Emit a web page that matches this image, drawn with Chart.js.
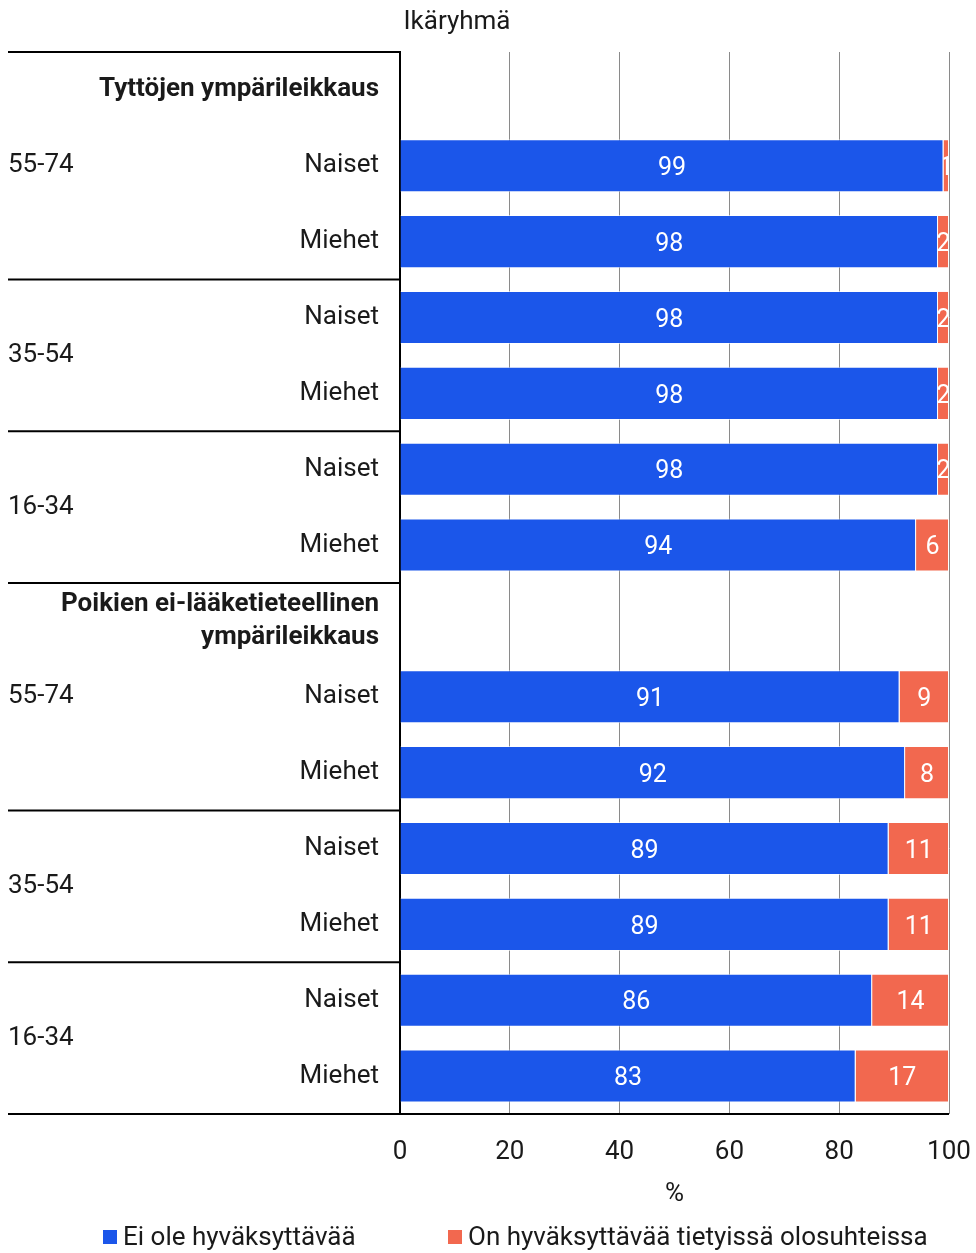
<!DOCTYPE html>
<html>
<head>
<meta charset="utf-8">
<script src="https://cdn.jsdelivr.net/npm/chart.js@4.4.1/dist/chart.umd.min.js"></script>
<style>
  body { margin: 0; background: #fff; }
  #wrap { width: 976px; height: 1253px; }
</style>
</head>
<body>
<div id="wrap"><canvas id="chart" width="976" height="1253"></canvas></div>
<script>
// rows of the chart (two section headers + respondent groups)
const rowLabels = [
  'Tyttöjen ympärileikkaus', 'Naiset', 'Miehet', 'Naiset', 'Miehet', 'Naiset', 'Miehet',
  ['Poikien ei-lääketieteellinen', 'ympärileikkaus'], 'Naiset', 'Miehet', 'Naiset', 'Miehet', 'Naiset', 'Miehet'
];
const headerRows = [0, 7];
const notAcceptable = [null, 99, 98, 98, 98, 98, 94, null, 91, 92, 89, 89, 86, 83];
const acceptableSometimes = [null, 1, 2, 2, 2, 2, 6, null, 9, 8, 11, 11, 14, 17];
const seriesNames = ['Ei ole hyväksyttävää', 'On hyväksyttävää tietyissä olosuhteissa'];
// age groups: label, first row, last row
const ageGroups = [
  ['55-74', 0, 2], ['35-54', 3, 4], ['16-34', 5, 6],
  ['55-74', 7, 9], ['35-54', 10, 11], ['16-34', 12, 13]
];
const xTicks = [0, 20, 40, 60, 80, 100];

const FONT = 'Roboto, "Noto Sans", sans-serif';
const TEXT = '#1a1a1a';
const FS = 26;

const groupPlugin = {
  id: 'groups',
  afterDraw(chart) {
    const ctx = chart.ctx;
    const y = chart.scales.y;
    const area = chart.chartArea;
    const half = (y.getPixelForValue(1) - y.getPixelForValue(0)) / 2;
    ctx.save();
    ctx.strokeStyle = '#000';
    ctx.lineWidth = 2;
    ctx.fillStyle = TEXT;
    ctx.font = FS + 'px ' + FONT;
    ctx.textAlign = 'left';
    ctx.textBaseline = 'middle';
    ageGroups.forEach(([lab, a, b]) => {
      const top = y.getPixelForValue(a) - half;
      ctx.beginPath();
      ctx.moveTo(8, top);
      ctx.lineTo(area.left, top);
      ctx.stroke();
      const mid = (y.getPixelForValue(a) + y.getPixelForValue(b)) / 2;
      ctx.fillText(lab, 8, mid);
    });
    ctx.beginPath();
    ctx.moveTo(8, area.bottom);
    ctx.lineTo(area.right, area.bottom);
    ctx.stroke();
    ctx.textAlign = 'center';
    ctx.fillText('Ikäryhmä', 457, 22);

    // legend
    let lx = 103;
    const ly = 1237;
    chart.data.datasets.forEach((ds, i) => {
      if (i === 1) lx = 448;
      ctx.fillStyle = ds.backgroundColor;
      ctx.fillRect(lx, ly - 7, 14, 14);
      ctx.fillStyle = TEXT;
      ctx.textAlign = 'left';
      ctx.fillText(ds.label, lx + 20, ly + 1);
    });
    ctx.restore();
  }
};

const valuePlugin = {
  id: 'values',
  afterDatasetsDraw(chart) {
    const ctx = chart.ctx;
    ctx.save();
    ctx.fillStyle = '#fff';
    ctx.font = '25px ' + FONT;
    ctx.textAlign = 'center';
    ctx.textBaseline = 'middle';
    chart.data.datasets.forEach((ds, di) => {
      chart.getDatasetMeta(di).data.forEach((bar, i) => {
        const v = ds.data[i];
        if (v == null) return;
        const l = Math.min(bar.x, bar.base), r = Math.max(bar.x, bar.base);
        ctx.save();
        ctx.beginPath();
        ctx.rect(l, bar.y - bar.height / 2, r - l, bar.height);
        ctx.clip();
        ctx.fillText(String(v), (l + r) / 2, bar.y + 3);
        ctx.restore();
      });
    });
    ctx.restore();
  }
};

new Chart(document.getElementById('chart'), {
  type: 'bar',
  data: {
    labels: rowLabels,
    datasets: [
      { label: seriesNames[0], data: notAcceptable, backgroundColor: '#1b56ea', borderColor: 'rgba(255,255,255,0.6)', borderWidth: 1 },
      { label: seriesNames[1], data: acceptableSometimes, backgroundColor: '#f2684f', borderColor: 'rgba(255,255,255,0.6)', borderWidth: 1 }
    ]
  },
  options: {
    indexAxis: 'y',
    responsive: false,
    animation: false,
    layout: { padding: { left: 8, right: 27, top: 52, bottom: 0 } },
    datasets: { bar: { barPercentage: 0.7, categoryPercentage: 1 } },
    scales: {
      x: {
        stacked: true,
        min: 0, max: 100,
        afterBuildTicks(s) { s.ticks = xTicks.map(v => ({ value: v })); },
        afterFit(s) { s.height = 139; s.paddingLeft = 0; s.paddingRight = 0; },
        grid: { color: '#8a8a8a', lineWidth: 1, drawTicks: false },
        border: { display: false },
        ticks: { color: TEXT, font: { family: FONT, size: FS }, padding: 23, maxRotation: 0 },
        title: { display: true, text: '%', color: TEXT, font: { family: FONT, size: FS }, padding: { top: 4, bottom: 43 } }
      },
      y: {
        stacked: true,
        afterFit(s) { s.width = 392; },
        grid: { display: false },
        border: { color: '#000', width: 2 },
        ticks: {
          color: TEXT,
          padding: 13,
          autoSkip: false,
          font: (c) => ({ family: FONT, size: FS, lineHeight: 1.27, weight: headerRows.includes(c.index) ? 'bold' : 'normal' })
        }
      }
    },
    plugins: {
      legend: { display: false },
      tooltip: { enabled: false }
    }
  },
  plugins: [groupPlugin, valuePlugin]
});
</script>
</body>
</html>
